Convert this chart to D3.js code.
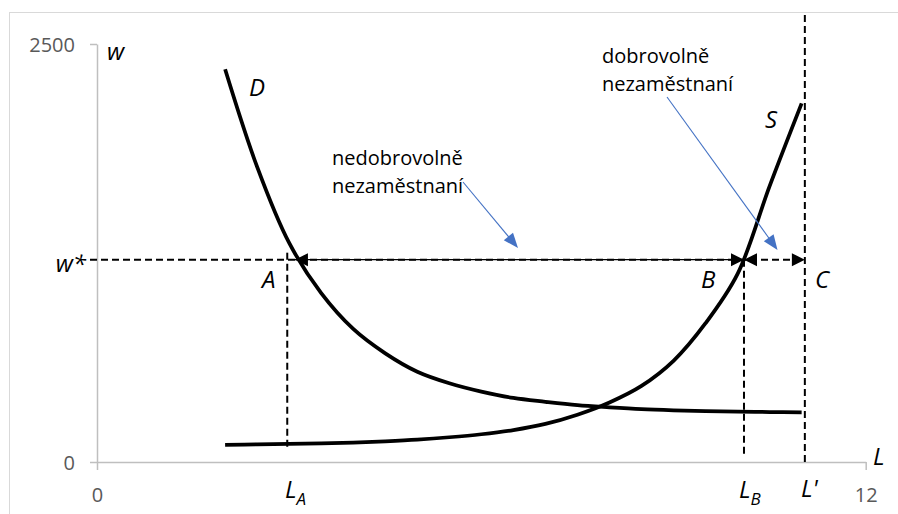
<!DOCTYPE html>
<html>
<head>
<meta charset="utf-8">
<script src="https://cdn.jsdelivr.net/npm/d3@7"></script>
<style>
  html, body { margin: 0; padding: 0; background: #fff; }
  svg { display: block; }
  text { font-family: "Open Sans", "Noto Sans", sans-serif; }
</style>
</head>
<body>
<svg id="chart" width="898" height="514"></svg>
<script>
// ---- data ----
const labourQty = [2, 2.5, 3, 3.5, 4, 4.5, 5, 5.5, 6, 6.5, 7, 7.5, 8, 8.5, 9, 9.5, 10, 10.5, 11];
const demandW   = [2349, 1765, 1310, 1010, 796, 650, 540, 471, 421, 383, 360, 340, 327, 316, 309, 304, 301, 299, 297];
const supplyW   = [102, 105, 108, 111, 116, 124, 134, 148, 166, 191, 228, 283, 356, 455, 605, 830, 1125, 1650, 2145];
const xTicks = [0, 12];
const yTicks = [0, 2500];
const wStar = 1210;      // wage w*
const LA = 2.97;         // L_A
const xArrowA = 3.09;    // where D meets w*
const LB = 10.1;         // L_B
const Lprime = 11.05;    // L'

const svg = d3.select("#chart");

const x = d3.scaleLinear().domain([0, 12]).range([97, 865.7]);
const y = d3.scaleLinear().domain([0, 2500]).range([462, 44]);

// outer frame
svg.append("rect").attr("x", 9.5).attr("y", 12.5).attr("width", 900).attr("height", 520)
  .attr("fill", "none").attr("stroke", "#d9d9d9").attr("stroke-width", 1);

// axes
const axisColor = "#bfbfbf";
const yAxis = svg.append("g").attr("transform", `translate(${x(0)},0)`)
  .call(d3.axisLeft(y).tickValues(yTicks).tickSize(7).tickSizeOuter(0).tickFormat(d3.format("d")));
const xAxis = svg.append("g").attr("transform", `translate(0,${y(0)})`)
  .call(d3.axisBottom(x).tickValues(xTicks).tickSize(8).tickSizeOuter(0).tickFormat(d3.format("d")));
[yAxis, xAxis].forEach(g => {
  g.select(".domain").attr("stroke", axisColor).attr("stroke-width", 1.5);
  g.selectAll(".tick line").attr("stroke", axisColor).attr("stroke-width", 1.5);
  g.selectAll(".tick text").attr("fill", "#595959").attr("font-size", 20)
    .attr("font-family", '"Open Sans", sans-serif');
});
yAxis.selectAll(".tick text").attr("x", -22).attr("dy", "0.36em");
xAxis.selectAll(".tick text").attr("y", 25).attr("dy", "0.73em");

// dashed guide lines
const dash = "7,4";
function guide(x1, y1, x2, y2) {
  svg.append("line").attr("x1", x1).attr("y1", y1).attr("x2", x2).attr("y2", y2)
    .attr("stroke", "#000").attr("stroke-width", 2).attr("stroke-dasharray", dash);
}
guide(90, y(wStar), x(Lprime), y(wStar));
guide(x(LA), y(wStar) - 7, x(LA), y(0) - 13);
guide(x(LB), y(wStar), x(LB), y(0) - 7);
guide(x(Lprime), 15, x(Lprime), y(0) + 2);

// solid A-B arrow shaft
svg.append("line").attr("x1", x(xArrowA)).attr("y1", y(wStar)).attr("x2", x(LB)).attr("y2", y(wStar))
  .attr("stroke", "#000").attr("stroke-width", 1.2);

// curves
const line = d3.line().x((d, i) => x(labourQty[i])).y(d => y(d)).curve(d3.curveCatmullRom.alpha(0.5));
svg.append("path").datum(demandW).attr("d", line)
  .attr("fill", "none").attr("stroke", "#000").attr("stroke-width", 3.75);
svg.append("path").datum(supplyW).attr("d", line)
  .attr("fill", "none").attr("stroke", "#000").attr("stroke-width", 3.75);

// arrowheads
function head(tx, ty, fx, fy, len, wid, color) {
  const a = Math.atan2(ty - fy, tx - fx);
  const bx = tx - len * Math.cos(a), by = ty - len * Math.sin(a);
  const px = -Math.sin(a) * wid / 2, py = Math.cos(a) * wid / 2;
  svg.append("polygon")
    .attr("points", `${tx},${ty} ${bx + px},${by + py} ${bx - px},${by - py}`)
    .attr("fill", color);
}
const yw = y(wStar);
head(x(xArrowA), yw, x(xArrowA) + 10, yw, 13, 13, "#000");
head(x(LB), yw, x(LB) - 10, yw, 13, 13, "#000");
head(x(LB), yw, x(LB) + 10, yw, 13, 13, "#000");
head(x(Lprime), yw, x(Lprime) - 10, yw, 13, 13, "#000");

// blue callout arrows
const blue = "#4472c4";
function callout(x1, y1, x2, y2) {
  const a = Math.atan2(y2 - y1, x2 - x1);
  svg.append("line").attr("x1", x1).attr("y1", y1)
    .attr("x2", x2 - 12 * Math.cos(a)).attr("y2", y2 - 12 * Math.sin(a))
    .attr("stroke", blue).attr("stroke-width", 1.1);
  head(x2, y2, x1, y1, 15, 12, blue);
}
callout(463, 182, 518, 248);
callout(667, 97, 777.5, 250);

// annotation texts
function txt(s, tx, ty, size, italic, anchor) {
  return svg.append("text").attr("x", tx).attr("y", ty).attr("font-size", size)
    .attr("font-style", italic ? "italic" : "normal")
    .attr("text-anchor", anchor || "start").attr("fill", "#000").text(s);
}
txt("nedobrovolně", 332, 165, 20);
txt("nezaměstnaní", 332, 193, 20);
txt("dobrovolně", 602, 63, 20);
txt("nezaměstnaní", 602, 91, 20);

txt("w", 107, 60, 24, true);
txt("D", 249, 96, 24, true);
txt("S", 765, 128, 24, true);
txt("w*", 86, 272, 24, true, "end");
txt("A", 262, 288, 24, true);
txt("B", 701, 288, 24, true);
txt("C", 815, 288, 24, true);
txt("L", 873, 465, 24, true);
txt("L'", 801, 497, 24, true);

const la = txt("L", 285, 498, 24, true);
la.append("tspan").attr("font-size", 17).attr("dy", 7).text("A");
const lb = txt("L", 739, 498, 24, true);
lb.append("tspan").attr("font-size", 17).attr("dy", 7).text("B");
</script>
</body>
</html>
